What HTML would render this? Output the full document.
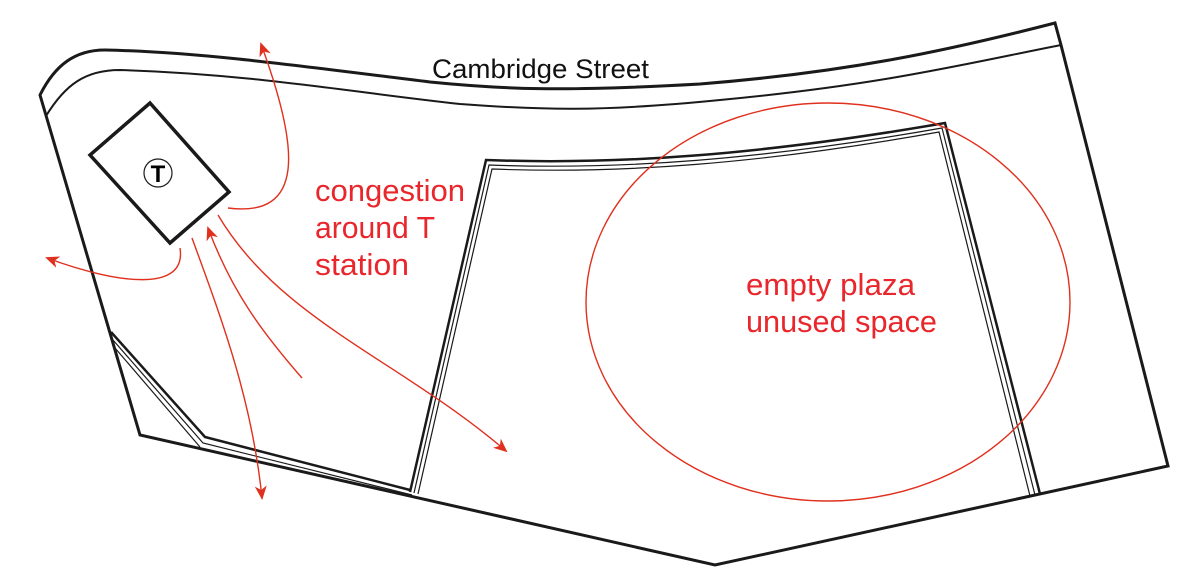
<!DOCTYPE html>
<html><head><meta charset="utf-8"><style>html,body{margin:0;padding:0;background:#fff}svg{display:block}</style></head>
<body>
<svg width="1200" height="575" viewBox="0 0 1200 575" xmlns="http://www.w3.org/2000/svg">
<defs>
<marker id="ah" markerWidth="14" markerHeight="14" refX="12" refY="7" orient="auto" markerUnits="userSpaceOnUse"><path d="M0,1 L14,7 L0,13 L4,7 Z" fill="#e0301e"/></marker>
</defs>
<g fill="none" stroke="#1a1a1a" stroke-linejoin="miter">
<path d="M40,95 C55,65 75,50 105,50 C200,52 300,66 430,82 C500,89 560,92 700,84 C850,72 950,50 1055,23 L1061,45 L1168,466 L715,565 L140,435 Z" stroke-width="3"/>
<path d="M46,116 C65,85 85,70 120,70 C250,74 350,92 460,104 C540,110 600,112 720,100 C880,85 960,65 1061,45" stroke-width="2"/>
<path d="M410,492 L486,160 C620,165 760,155 945,123 L1040,494" stroke-width="2.5"/>
<path d="M414,493 L489,165 C620,170 760,160 942,128 L1035,495" stroke-width="1.2"/>
<path d="M418,494 L492,169 C620,174 760,164 939,132 L1030,496" stroke-width="1.2"/>
<path d="M111,332 L205,437 L410,490" stroke-width="2.5"/>
<path d="M113,340 L203,443 L412,495" stroke-width="1.2"/>
<path d="M115,348 L200,447" stroke-width="1.2"/>
<path d="M150,103 L229,192 L170,243 L90,155 Z" stroke-width="3.5"/>
<circle cx="158" cy="173" r="14" stroke-width="1.2"/>
</g>
<text x="158" y="182" font-family="Liberation Sans, sans-serif" font-weight="bold" font-size="24" text-anchor="middle" fill="#000">T</text>
<g fill="none" stroke="#e0301e" stroke-width="1.4">
<path d="M228,208 C305,218 300,150 261,44" marker-end="url(#ah)"/>
<path d="M180,248 C187,292 120,285 47,258" marker-end="url(#ah)"/>
<path d="M192,238 C222,320 252,400 262,498" marker-end="url(#ah)"/>
<path d="M302,378 C262,332 232,292 208,228" marker-end="url(#ah)"/>
<path d="M218,215 C280,320 400,360 506,451" marker-end="url(#ah)"/>
<ellipse cx="828" cy="302" rx="242" ry="199"/>
</g>
<text x="432" y="78" font-family="Liberation Sans, sans-serif" font-size="27" textLength="217" lengthAdjust="spacingAndGlyphs" fill="#111">Cambridge Street</text>
<g font-family="Liberation Sans, sans-serif" font-size="31" fill="#e8262b">
<text x="315" y="201" textLength="150" lengthAdjust="spacingAndGlyphs">congestion</text>
<text x="315" y="238" textLength="120" lengthAdjust="spacingAndGlyphs">around T</text>
<text x="315" y="275" textLength="94" lengthAdjust="spacingAndGlyphs">station</text>
<text x="746" y="295" textLength="169" lengthAdjust="spacingAndGlyphs">empty plaza</text>
<text x="746" y="332" textLength="191" lengthAdjust="spacingAndGlyphs">unused space</text>
</g>
</svg>
</body></html>
